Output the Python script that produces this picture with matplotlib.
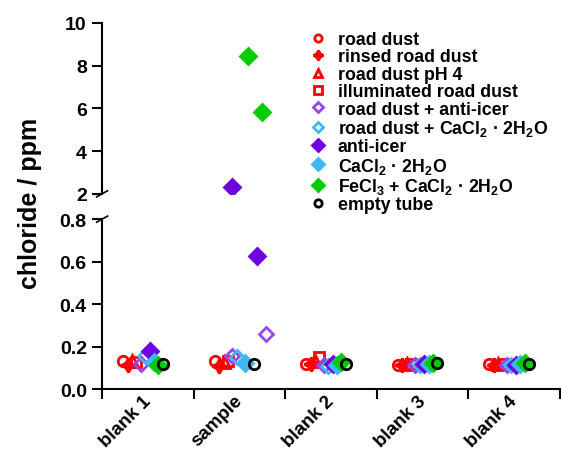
import numpy as np
import matplotlib.pyplot as plt
from matplotlib.transforms import ScaledTranslation

plt.rcParams['font.family'] = ['Liberation Sans', 'DejaVu Sans']
plt.rcParams['font.weight'] = 'bold'
plt.rcParams['mathtext.fontset'] = 'custom'
plt.rcParams['mathtext.rm'] = 'Liberation Sans:bold'
plt.rcParams['mathtext.it'] = 'Liberation Sans:bold'
plt.rcParams['mathtext.bf'] = 'Liberation Sans:bold'
plt.rcParams['mathtext.default'] = 'rm'

nan = np.nan

# data
categories = ['blank 1', 'sample', 'blank 2', 'blank 3', 'blank 4']
series_names = ['road dust', 'rinsed road dust', 'road dust pH 4', 'illuminated road dust',
                'road dust + anti-icer', 'road dust + CaCl$_2$ \u00b7 2H$_2$O', 'anti-icer',
                'CaCl$_2$ \u00b7 2H$_2$O', 'FeCl$_3$ + CaCl$_2$ \u00b7 2H$_2$O', 'empty tube']

road_dust       = [0.130, 0.132, 0.118, 0.113, 0.118]
rinsed          = [0.112, 0.110, 0.120, 0.113, 0.115]
road_dust_ph4   = [0.130, 0.128, 0.130, 0.118, 0.118]
illuminated     = [0.128, 0.130, 0.150, 0.118, 0.118]
rd_anti_icer    = [0.118, 0.155, 0.112, 0.115, 0.113]
rd_cacl2        = [0.155, 0.150, 0.110, 0.115, 0.115]
anti_icer       = [0.180, nan,   0.118, 0.118, 0.115]
cacl2           = [0.128, 0.122, 0.112, 0.118, 0.118]
fecl3_cacl2     = [0.115, nan,   0.128, 0.122, 0.123]
empty_tube      = [0.118, 0.120, 0.120, 0.122, 0.120]

values = [road_dust, rinsed, road_dust_ph4, illuminated, rd_anti_icer,
          rd_cacl2, anti_icer, cacl2, fecl3_cacl2, empty_tube]

# additional replicates in "sample"
extra_series = [4, 6, 6, 8, 8]
extra_offsets = [0.29, -0.08, 0.19, 0.09, 0.245]
extra_values = [0.26, 2.32, 0.625, 8.45, 5.82]

# styles
red = '#ff0000'
purple_l = '#9447f0'
purple_d = '#7000e0'
blue = '#3fb6f6'
green = '#00cc00'
styles = [
    dict(marker='o', color=red, mfc='none', ms=7.5),
    dict(marker=(4, 1, 0), color=red, mfc=red, ms=10),
    dict(marker='^', color=red, mfc='none', ms=8.5),
    dict(marker='s', color=red, mfc='none', ms=7.5),
    dict(marker='D', color=purple_l, mfc='none', ms=7.5),
    dict(marker='D', color=blue, mfc='none', ms=7.5),
    dict(marker='D', color=purple_d, mfc=purple_d, ms=8.5),
    dict(marker='D', color=blue, mfc=blue, ms=8.5),
    dict(marker='D', color=green, mfc=green, ms=8.5),
    dict(marker='o', color='black', mfc='none', ms=7.5),
]
offsets = -0.27 + 0.048 * np.arange(10)

fig = plt.figure(figsize=(5.61, 4.52), dpi=100)
ax_top = fig.add_axes([0.182, 0.569, 0.816, 0.378])
ax_bot = fig.add_axes([0.182, 0.137, 0.816, 0.376])

centers = np.arange(len(categories)) + 0.5
handles = []
for i, name in enumerate(series_names):
    for ax in (ax_top, ax_bot):
        ln, = ax.plot(centers + offsets[i], values[i], ls='none', mew=2.0,
                      label=name, **styles[i])
    handles.append(ln)

for s, off, v in zip(extra_series, extra_offsets, extra_values):
    for ax in (ax_top, ax_bot):
        ax.plot([1.5 + off], [v], ls='none', mew=2.0, **styles[s])

for ax in (ax_top, ax_bot):
    ax.set_xlim(0, 5)
    for side in ('top', 'right'):
        ax.spines[side].set_visible(False)
    ax.spines['left'].set_linewidth(1.5)
    ax.spines['bottom'].set_linewidth(1.5)
    ax.tick_params(axis='y', direction='out', length=7, width=1.5, labelsize=14, pad=4)

ax_top.spines['bottom'].set_visible(False)
ax_top.tick_params(axis='x', bottom=False, labelbottom=False)
ax_top.set_ylim(2, 10)
ax_top.set_yticks([2, 4, 6, 8, 10])

ax_bot.set_ylim(0, 0.8)
ax_bot.set_yticks([0.0, 0.2, 0.4, 0.6, 0.8])
ax_bot.set_yticklabels(['0.0', '0.2', '0.4', '0.6', '0.8'])
ax_bot.set_xticks(np.arange(6))
ax_bot.set_xticklabels([])
ax_bot.tick_params(axis='x', which='major', direction='out', length=7, width=1.5)
ax_bot.set_xticks(centers, minor=True)
ax_bot.set_xticklabels(categories, minor=True, rotation=45, ha='right', va='top',
                       rotation_mode='anchor', fontsize=13.5)
ax_bot.tick_params(axis='x', which='minor', length=0, pad=2)
shift = ScaledTranslation(-4 / 72, 0, fig.dpi_scale_trans)
for lab in ax_bot.get_xticklabels(minor=True):
    lab.set_transform(lab.get_transform() + shift)

# break marks
d = 0.012
ax_top.plot([-d, d], [-d * 1.5, d * 1.5], transform=ax_top.transAxes, color='k',
            lw=1.2, clip_on=False)
ax_bot.plot([-d, d], [1 - d * 1.5, 1 + d * 1.5], transform=ax_bot.transAxes, color='k',
            lw=1.2, clip_on=False)

fig.text(0.053, 0.55, 'chloride / ppm', rotation=90, fontsize=18, va='center', ha='center')

fig.legend(handles, series_names, loc='upper left', bbox_to_anchor=(0.551, 0.929),
           frameon=False, fontsize=12.8, handlelength=1, handletextpad=0.6,
           borderpad=0, borderaxespad=0, labelspacing=0.02, markerscale=0.7)

fig.savefig('out.png', dpi=100)
